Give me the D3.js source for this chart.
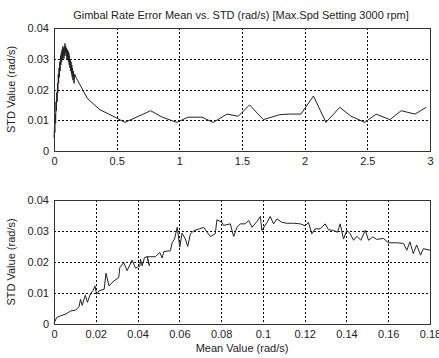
<!DOCTYPE html>
<html>
<head>
<meta charset="utf-8">
<script src="https://cdn.jsdelivr.net/npm/d3@7"></script>
<style>
  body { margin: 0; background: #fff; }
  text { font-family: Arial, "Liberation Sans", sans-serif; fill: #222; }
</style>
</head>
<body>
<div id="chart"></div>
<script>
// top plot: mean vs std over full speed range
var topMean = [0,0.004,0.007,0.01,0.013,0.016,0.019,0.022,0.025,0.028,0.031,0.034,0.037,0.04,0.043,0.046,0.049,0.052,0.055,0.058,0.061,0.064,0.067,0.07,0.073,0.076,0.079,0.082,0.085,0.088,0.091,0.094,0.097,0.1,0.103,0.106,0.109,0.112,0.115,0.118,0.121,0.124,0.127,0.13,0.133,0.136,0.139,0.142,0.145,0.148,0.151,0.155,0.16,0.165,0.175,
  0.266,0.367,0.487,0.566,0.771,0.864,0.979,1.07,1.18,1.27,1.38,1.47,1.56,1.67,1.80,1.87,1.97,2.07,2.17,2.28,2.37,2.48,2.57,2.68,2.77,2.88,2.97];
var topStd = [0.0043,0.008,0.006,0.012,0.009,0.016,0.013,0.019,0.016,0.022,0.019,0.025,0.022,0.027,0.024,0.029,0.026,0.031,0.028,0.032,0.029,0.033,0.030,0.034,0.031,0.0335,0.030,0.034,0.031,0.035,0.032,0.034,0.031,0.0335,0.030,0.033,0.030,0.0325,0.029,0.032,0.028,0.031,0.027,0.0295,0.026,0.029,0.025,0.028,0.024,0.027,0.023,0.026,0.022,0.025,0.024,
  0.0171,0.0134,0.011,0.0093,0.0131,0.011,0.0093,0.011,0.011,0.0093,0.012,0.0113,0.015,0.0102,0.0118,0.012,0.012,0.0179,0.0093,0.0142,0.0113,0.0093,0.012,0.0102,0.0131,0.012,0.0142];

// bottom plot: zoom on the low-mean region
var lowMean = [0,0.0013,0.003,0.0056,0.008,0.0104,0.012,0.0127,0.0135,0.015,0.016,0.0175,0.0188,0.0196,0.0204,0.0215,0.024,0.0249,0.0263,0.0287,0.031,0.0315,0.0334,0.035,0.0374,0.039,0.0411,0.0414,0.0422,0.0433,0.0446,0.0457,0.0446,0.0486,0.0506,0.0518,0.0526,0.0557,0.0566,0.0577,0.059,0.0602,0.0613,0.0629,0.064,0.0653,0.0669,0.0693,0.0717,0.0733,0.0749,0.0772,0.078,0.0804,0.0812,0.0844,0.086,0.0876,0.0892,0.0916,0.0932,0.0948,0.0972,0.0988,0.0995,0.102,0.1035,0.1051,0.1067,0.1091,0.1115,0.1147,0.1179,0.1203,0.1218,0.1234,0.125,0.1274,0.1298,0.1314,0.1338,0.1357,0.137,0.1386,0.1402,0.1418,0.1434,0.145,0.1469,0.149,0.1506,0.1526,0.1545,0.1577,0.1601,0.1641,0.1673,0.1689,0.1704,0.172,0.1736,0.1755,0.1768,0.18];
var lowStd = [0.0002,0.0021,0.0026,0.0032,0.0042,0.0045,0.0056,0.008,0.006,0.0093,0.007,0.0098,0.0109,0.0123,0.0096,0.0107,0.0112,0.0164,0.0123,0.0139,0.015,0.0182,0.0198,0.0172,0.0206,0.018,0.0187,0.0209,0.0188,0.0214,0.0217,0.0188,0.0217,0.0217,0.0231,0.0213,0.0234,0.0236,0.0263,0.0274,0.0312,0.0248,0.0293,0.0274,0.025,0.029,0.0301,0.0306,0.0312,0.0296,0.0282,0.0291,0.0336,0.0328,0.0318,0.0323,0.0282,0.0312,0.0323,0.0323,0.0334,0.0312,0.0331,0.0347,0.0302,0.0328,0.0347,0.0323,0.0339,0.0328,0.0325,0.0325,0.0323,0.0317,0.0328,0.0291,0.0307,0.0307,0.0323,0.0304,0.0302,0.0296,0.0323,0.0274,0.0302,0.0291,0.027,0.0283,0.027,0.0302,0.027,0.0281,0.0273,0.0276,0.0262,0.0262,0.026,0.0238,0.0265,0.0227,0.0255,0.0222,0.0243,0.0238];

var topXTicks = [0, 0.5, 1, 1.5, 2, 2.5, 3];
var lowXTicks = [0, 0.02, 0.04, 0.06, 0.08, 0.1, 0.12, 0.14, 0.16, 0.18];
var yTicks = [0, 0.01, 0.02, 0.03, 0.04];

var svg = d3.select("#chart").append("svg").attr("width", 439).attr("height", 358);

svg.append("text")
    .attr("x", 241).attr("y", 19)
    .attr("text-anchor", "middle")
    .style("font-size", "11px")
    .text("Gimbal Rate Error Mean vs. STD (rad/s) [Max.Spd Setting 3000 rpm]");

function drawPanel(top, bottom, xMax, xTicks, xs, ys, xLabel) {
    var left = 54, right = 430;
    var x = d3.scaleLinear().domain([0, xMax]).range([left, right]);
    var y = d3.scaleLinear().domain([0, 0.04]).range([bottom, top]);
    var g = svg.append("g");

    // dotted grid
    g.selectAll(".gx").data(xTicks.slice(1, -1)).enter().append("line")
        .attr("x1", function (d) { return Math.round(x(d)) + 0.5; })
        .attr("x2", function (d) { return Math.round(x(d)) + 0.5; })
        .attr("y1", top).attr("y2", bottom)
        .attr("stroke", "#000").attr("stroke-dasharray", "2,2");
    g.selectAll(".gy").data(yTicks.slice(1, -1)).enter().append("line")
        .attr("y1", function (d) { return Math.round(y(d)) + 0.5; })
        .attr("y2", function (d) { return Math.round(y(d)) + 0.5; })
        .attr("x1", left).attr("x2", right)
        .attr("stroke", "#000").attr("stroke-dasharray", "2,2");

    var pts = xs.map(function (d, i) { return [d, ys[i]]; });
    g.append("path")
        .datum(pts)
        .attr("fill", "none")
        .attr("stroke", "#222")
        .attr("stroke-width", 1)
        .attr("d", d3.line().x(function (d) { return x(d[0]); }).y(function (d) { return y(d[1]); }));

    // box
    g.append("rect")
        .attr("x", left + 0.5).attr("y", top + 0.5)
        .attr("width", right - left).attr("height", bottom - top)
        .attr("fill", "none").attr("stroke", "#333");

    var xAxis = d3.axisBottom(x).tickValues(xTicks).tickSize(0).tickPadding(6)
        .tickFormat(function (d) { return d3.format("")(d); });
    var ax = g.append("g").attr("transform", "translate(0," + bottom + ")").call(xAxis);
    ax.select(".domain").remove();
    ax.selectAll("text").style("font-size", "11px").attr("fill", "#222");

    var yAxis = d3.axisLeft(y).tickValues(yTicks).tickSize(0).tickPadding(5)
        .tickFormat(function (d) { return d3.format("")(d); });
    var ay = g.append("g").attr("transform", "translate(" + left + ",0)").call(yAxis);
    ay.select(".domain").remove();
    ay.selectAll("text").style("font-size", "11px").attr("fill", "#222");

    g.append("text")
        .attr("transform", "translate(15," + (top + bottom) / 2 + ") rotate(-90)")
        .attr("text-anchor", "middle")
        .style("font-size", "11px")
        .text("STD Value (rad/s)");

    if (xLabel) {
        g.append("text")
            .attr("x", 242).attr("y", bottom + 28)
            .attr("text-anchor", "middle")
            .style("font-size", "11px")
            .text(xLabel);
    }
}

drawPanel(28, 151, 3, topXTicks, topMean, topStd, null);
drawPanel(200, 324, 0.18, lowXTicks, lowMean, lowStd, "Mean Value (rad/s)");
</script>
</body>
</html>
